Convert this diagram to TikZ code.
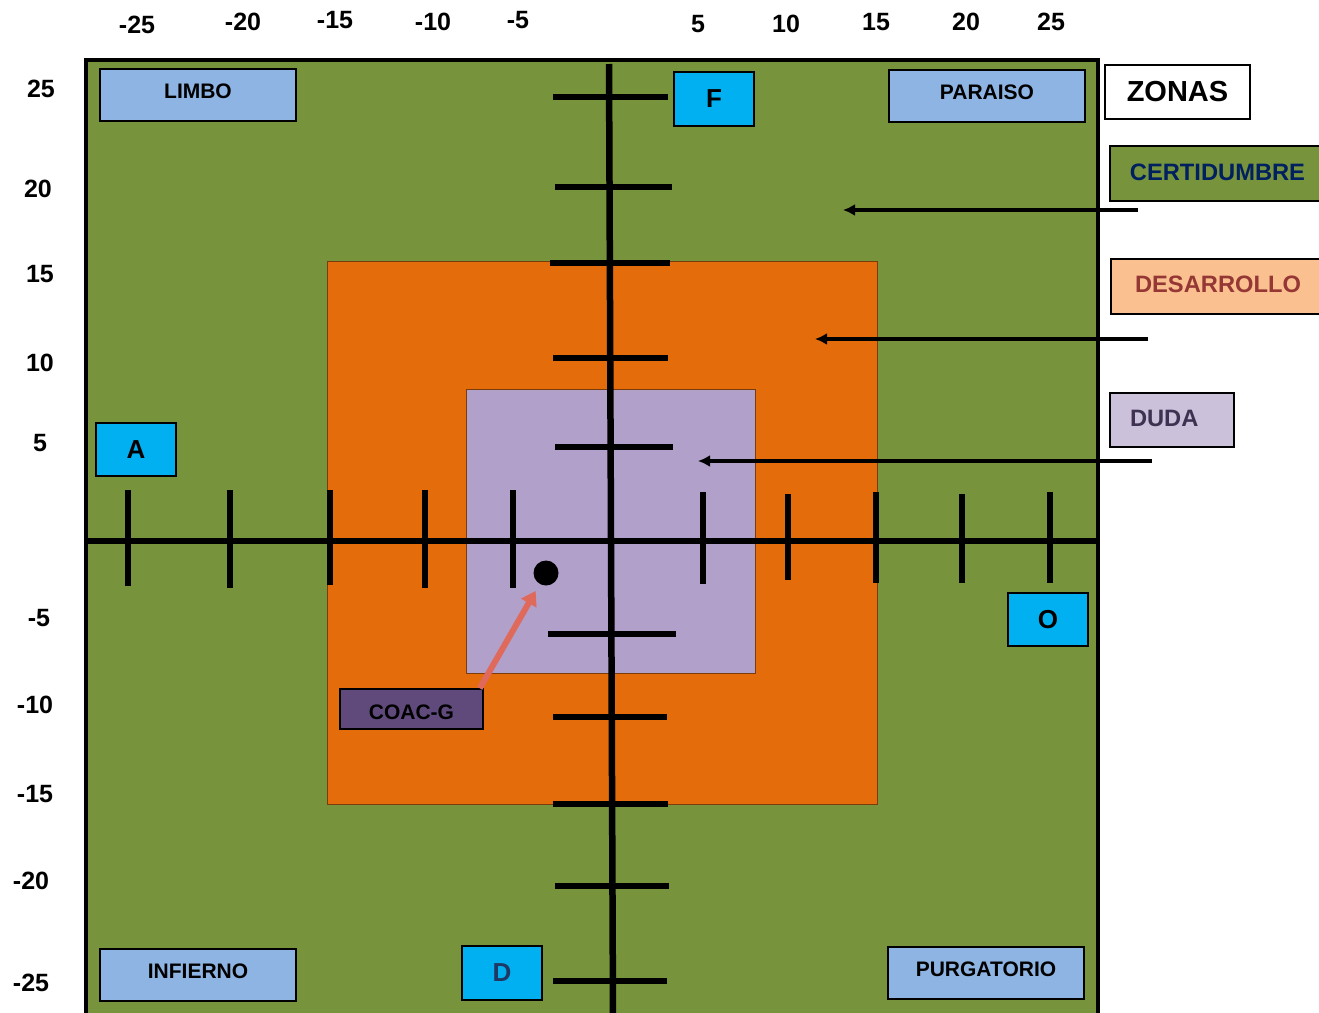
\documentclass[tikz,border=0pt]{standalone}
\usepackage{fontspec}
\setmainfont{Liberation Sans}
\usetikzlibrary{arrows.meta,calc}

\definecolor{zoneGreen}{HTML}{77933C}
\definecolor{zoneOrange}{HTML}{E46C0A}
\definecolor{zoneLilac}{HTML}{B1A0C9}
\definecolor{cornerBlue}{HTML}{8EB4E3}
\definecolor{pointCyan}{HTML}{00B0F0}
\definecolor{coacPurple}{HTML}{604A7B}
\definecolor{navyText}{HTML}{002060}
\definecolor{peachFill}{HTML}{FAC090}
\definecolor{brickText}{HTML}{953735}
\definecolor{lilacFill}{HTML}{CCC1DA}
\definecolor{plumText}{HTML}{3F3151}
\definecolor{dText}{HTML}{1F3864}
\definecolor{coralArrow}{HTML}{DF6A5C}
\definecolor{rimBrown}{HTML}{7A3C0A}

\newcommand\szb[1]{\fontsize{#1}{#1}\selectfont\bfseries}

\begin{document}
\begin{tikzpicture}[x=1pt,y=-1pt,
  axisline/.style={line width=6.5pt,black},
  tickmark/.style={line width=6pt,black},
  axlabel/.style={font=\szb{25},inner sep=0pt},
  cornerbox/.style={draw=black,line width=1.5pt,fill=cornerBlue,
    minimum width=196pt,minimum height=52pt,inner sep=0pt,
    font=\szb{21},text height=15pt,text depth=8pt},
  letterbox/.style={draw=black,line width=1.5pt,fill=pointCyan,
    minimum width=80pt,minimum height=54pt,inner sep=0pt,font=\szb{26}},
  legendbox/.style={draw=black,line width=2pt,minimum height=55pt,
    inner sep=0pt,font=\szb{23.7},text height=17pt,text depth=4pt},
  pointer/.style={line width=4.5pt,black,-{Latex[length=12pt,width=12pt]}},
  coralpointer/.style={line width=6pt,coralArrow,-{Triangle[length=14pt,width=17pt]}}
]
\useasboundingbox (0,0) rectangle (1319,1012);

% zones
\draw[line width=4pt,fill=zoneGreen] (86,60) rectangle (1098,1020);
\draw[line width=1pt,draw=rimBrown,fill=zoneOrange] (327,261) rectangle (877,804);
\draw[line width=1pt,draw=rimBrown,fill=zoneLilac] (466,389) rectangle (755,673);

% axes
\draw[axisline] (88,541) -- (1096,541);
\draw[axisline] (609,64) -- (613,1016);

% ticks on the horizontal axis
\foreach \x/\a/\b in {128/490/586,230/490/588,330/490/585,425/490/588,513/490/588,
                      703/492/584,788/494/580,876/492/583,962/494/583,1050/492/583}
  \draw[tickmark] (\x,\a) -- (\x,\b);

% ticks on the vertical axis
\foreach \y/\a/\b in {97/553/668,187/555/672,263/550/670,358/553/668,447/555/673,
                      634/548/676,717/553/667,804/553/668,886/555/669,981/553/667}
  \draw[tickmark] (\a,\y) -- (\b,\y);

% scale labels along the top
\foreach \x/\y/\t in {137/25/-25,243/22/-20,335/20/-15,433/22/-10,518/20/-5,
                      698/24/5,786/24/10,876/22/15,966/22/20,1051/22/25}
  \node[axlabel] (top\t) at (\x,\y) {\t};

% scale labels along the left side
\foreach \x/\y/\t in {41/89/25,38/189/20,40/274/15,40/363/10,40/443/5,
                      39/618/-5,35/705/-10,35/794/-15,31/881/-20,31/983/-25}
  \node[axlabel] (left\t) at (\x,\y) {\t};

% corner regions
\node[cornerbox] (limbo) at (198,95) {LIMBO};
\node[cornerbox] (paraiso) at (987,96) {PARAISO};
\node[cornerbox] (infierno) at (198,975) {INFIERNO};
\node[cornerbox] (purgatorio) at (986,973) {PURGATORIO};

% cardinal markers
\node[letterbox] (F) at (714,99) {F};
\node[letterbox,minimum height=53pt] (A) at (136,449.5) {A};
\node[letterbox,minimum height=53pt] (O) at (1048,619.5) {O};
\node[letterbox,text=dText] (D) at (502,973) {D};

% legend
\node[draw=black,line width=1.5pt,fill=white,minimum width=145pt,minimum height=54pt,
      inner sep=0pt,font=\szb{29}] (zonas) at (1177.5,92) {ZONAS};
\node[legendbox,fill=zoneGreen,text=navyText,minimum width=215pt] (cert) at (1217.5,173.5) {CERTIDUMBRE};
\node[legendbox,fill=peachFill,text=brickText,minimum width=214pt] (desa) at (1218,286) {DESARROLLO};
\node[legendbox,fill=lilacFill,text=plumText,minimum width=124pt,minimum height=54pt,
      text width=84pt,inner xsep=20pt,align=left] (duda) at (1172,420) {DUDA};

% legend pointers
\coordinate (certFrom) at (1138,210);
\coordinate (certTo) at (843,210);
\coordinate (desaFrom) at (1148,339);
\coordinate (desaTo) at (815,339);
\coordinate (dudaFrom) at (1152,461);
\coordinate (dudaTo) at (698,461);
\draw[pointer] (certFrom) -- (certTo);
\draw[pointer] (desaFrom) -- (desaTo);
\draw[pointer] (dudaFrom) -- (dudaTo);

% position of COAC-G
\node[circle,fill=black,minimum size=25pt,inner sep=0pt] (dot) at (546,573) {};
\node[draw=black,line width=1.5pt,fill=coacPurple,minimum width=143pt,minimum height=40pt,
      inner sep=0pt,font=\szb{21},text height=20pt,text depth=0pt] (coac) at (411.5,709) {COAC-G};
\draw[coralpointer,shorten >=8pt] ($(coac.north east)+(-4,0)$) -- (dot);
\end{tikzpicture}
\end{document}
